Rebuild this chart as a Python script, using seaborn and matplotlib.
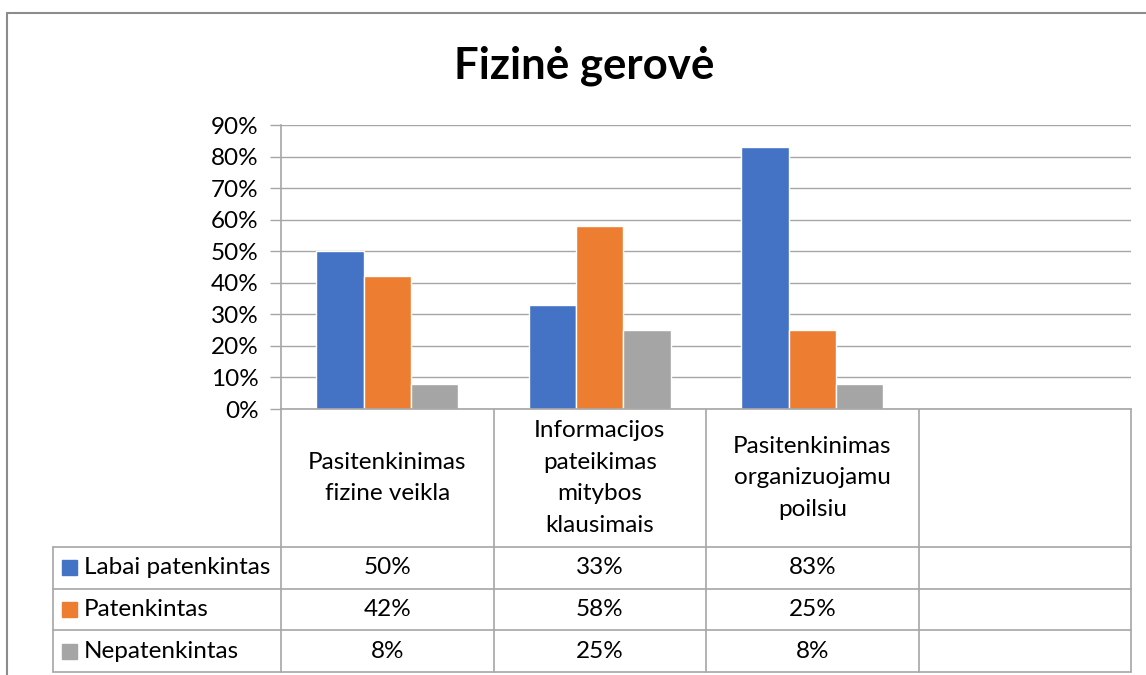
import pandas as pd
import seaborn as sns
import matplotlib.pyplot as plt
from matplotlib.patches import Rectangle

# data
categories = ['Pasitenkinimas\nfizine veikla',
              'Informacijos\npateikimas\nmitybos\nklausimais',
              'Pasitenkinimas\norganizuojamu\npoilsiu']
series = ['Labai patenkintas', 'Patenkintas', 'Nepatenkintas']
labai = [0.50, 0.33, 0.83]
patenkintas = [0.42, 0.58, 0.25]
nepatenkintas = [0.08, 0.25, 0.08]
colors = ['#4472C4', '#ED7D31', '#A5A5A5']
title = 'Fizinė gerovė'

df = pd.DataFrame({
    'cat': categories * 3,
    'series': [s for s in series for _ in categories],
    'value': labai + patenkintas + nepatenkintas,
})

sns.set_theme(style='white')
plt.rcParams['font.family'] = ['Lato', 'DejaVu Sans']
plt.rcParams['text.color'] = 'black'

W, H = 1146, 675
fig = plt.figure(figsize=(W / 100, H / 100), dpi=100)

# layout in pixels
L, R, TOP, BASE = 281, 1131, 125, 409
HEAD_BOT, TAB_BOT, LEG_L = 547, 672, 53
grid_c = '#a6a6a6'
fs = 17.5

ax = fig.add_axes([L / W, 1 - BASE / H, (R - L) / W, (BASE - TOP) / H])
sns.barplot(data=df, x='cat', y='value', hue='series', order=categories,
            hue_order=series, palette=colors, saturation=1, width=0.667,
            gap=0, legend=False, ax=ax)
ax.set_xlim(-0.5, 3.5)
ax.set_ylim(0, 0.9)
ax.set_yticks([i / 10 for i in range(10)])
ax.set_yticklabels([f'{i * 10}%' for i in range(10)], fontsize=fs, color='black')
ax.yaxis.grid(True, color=grid_c, lw=1)
ax.set_axisbelow(True)
ax.set_xticks([])
ax.set_xlabel('')
ax.set_ylabel('')
for s in ['top', 'right']:
    ax.spines[s].set_visible(False)
for s in ['left', 'bottom']:
    ax.spines[s].set_color(grid_c)
    ax.spines[s].set_linewidth(1.2)
ax.tick_params(axis='y', which='major', left=True, length=8, width=1,
               color=grid_c, pad=8)

# overlay for table, title and frame
ov = fig.add_axes([0, 0, 1, 1], zorder=-1)
ov.set_xlim(0, W)
ov.set_ylim(H, 0)
ov.axis('off')

ov.text(584, 66, title, ha='center', va='center', fontsize=31.5,
        fontweight='bold', color='black')
ov.plot([7, W], [13, 13], color='#8c8c8c', lw=1.5)
ov.plot([7, 7], [13, H], color='#8c8c8c', lw=1.5)

n_cols = 4
col_w = (R - L) / n_cols
row_h = (TAB_BOT - HEAD_BOT) / 3
for i in range(n_cols + 1):
    x = L + i * col_w
    ov.plot([x, x], [BASE, TAB_BOT], color=grid_c, lw=1.2)
for j in range(4):
    y = HEAD_BOT + j * row_h
    ov.plot([LEG_L, R], [y, y], color=grid_c, lw=1.2)
ov.plot([LEG_L, LEG_L], [HEAD_BOT, TAB_BOT], color=grid_c, lw=1.2)

for i, c in enumerate(categories):
    ov.text(L + (i + 0.5) * col_w, (BASE + HEAD_BOT) / 2, c, ha='center',
            va='center', fontsize=fs, linespacing=1.62)

values = [labai, patenkintas, nepatenkintas]
for j, (s, vals) in enumerate(zip(series, values)):
    yc = HEAD_BOT + (j + 0.5) * row_h
    ov.add_patch(Rectangle((62, yc - 7.5), 15, 15, color=colors[j]))
    ov.text(84, yc, s, ha='left', va='center', fontsize=fs)
    for i, v in enumerate(vals):
        ov.text(L + (i + 0.5) * col_w, yc, f'{round(v * 100)}%', ha='center',
                va='center', fontsize=fs)

fig.savefig('out.png', dpi=100)
